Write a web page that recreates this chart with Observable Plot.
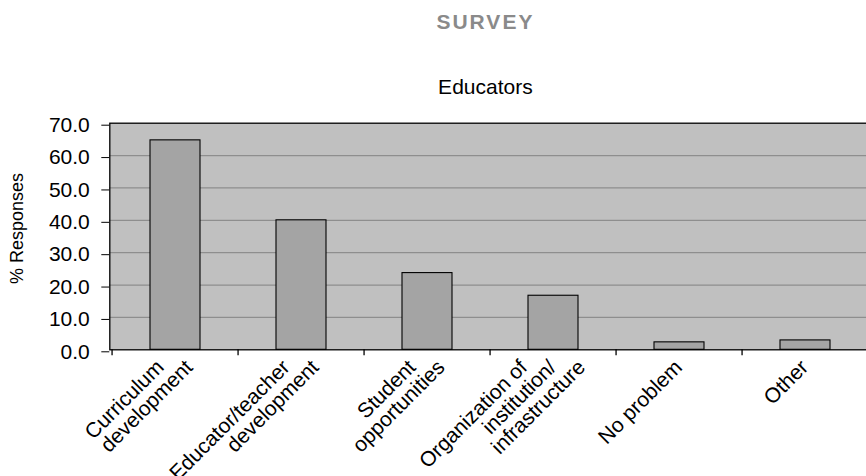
<!DOCTYPE html>
<html>
<head>
<meta charset="utf-8">
<script src="https://cdn.jsdelivr.net/npm/d3@7"></script>
<script src="https://cdn.jsdelivr.net/npm/@observablehq/plot@0.6"></script>
<style>
  html, body { margin: 0; padding: 0; background: #fff; overflow: hidden; }
  #chart svg { font-family: "Liberation Sans", Arial, Helvetica, sans-serif; }
</style>
</head>
<body>
<div id="chart"></div>
<script>
// Survey responses from educators, share of responses per problem area
const categories = [
  "Curriculum development",
  "Educator/teacher development",
  "Student opportunities",
  "Organization of institution/infrastructure",
  "No problem",
  "Other"
];
const values = [64.7, 40.0, 23.7, 16.7, 2.3, 2.9];
const labelLines = [
  ["Curriculum", "development"],
  ["Educator/teacher", "development"],
  ["Student", "opportunities"],
  ["Organization of", "institution/", "infrastructure"],
  ["No problem"],
  ["Other"]
];
const yTicks = [0, 10, 20, 30, 40, 50, 60, 70];
const title = "SURVEY";
const subtitle = "Educators";
const yLabel = "% Responses";

const rows = categories.map((category, i) => ({category, value: values[i]}));

// one row per wrapped label line; offset is the line's position relative to the block middle
const lineRows = categories.flatMap((category, i) => {
  const lines = labelLines[i];
  return lines.map((line, k) => ({category, line, offset: k - (lines.length - 1) / 2}));
});

const width = 866, height = 476;
const marginLeft = 109.3, marginRight = -4.5, marginTop = 122.7, marginBottom = 126.7;
const step = (width - marginLeft - marginRight) / categories.length;
const lineShift = 29;

const offsets = [-1, -0.5, 0, 0.5, 1];
const labelMarks = offsets.map(o =>
  Plot.text(lineRows.filter(d => d.offset === o), {
    x: "category",
    text: "line",
    frameAnchor: "bottom",
    dy: 18.7,
    dx: 4 + o * lineShift,
    rotate: -45,
    textAnchor: "end",
    lineAnchor: "bottom",
    fontSize: 21,
    fill: "#000"
  })
);

const chart = Plot.plot({
  width, height, marginLeft, marginRight, marginTop, marginBottom,
  style: {fontSize: "21px", fontFamily: "'Liberation Sans', Arial, Helvetica, sans-serif", color: "#000", background: "#fff"},
  x: {domain: categories, paddingInner: 0.6, paddingOuter: 0.3, axis: null},
  y: {domain: [0, 70], axis: null},
  marks: [
    Plot.frame({fill: "#c0c0c0", stroke: null}),
    Plot.gridY(yTicks.filter(t => t > 0 && t < 70), {stroke: "#8e8e8e", strokeOpacity: 1, strokeWidth: 1.3}),
    Plot.barY(rows, {x: "category", y: "value", fill: "#a4a4a4", stroke: "#000", strokeWidth: 1.1}),
    Plot.frame({stroke: "#000", strokeWidth: 1.3}),
    Plot.axisY({ticks: yTicks, tickSize: 8, tickPadding: 12, tickFormat: d3.format(".1f"), label: null, dy: 2, fontSize: 21}),
    Plot.axisX({tickSize: 6, tickFormat: () => "", label: null, dx: -step / 2, strokeWidth: 1.3}),
    ...labelMarks,
    Plot.text([yLabel], {frameAnchor: "left", text: d => d, rotate: -90, dx: -87, dy: -8, fontSize: 18, textAnchor: "middle", lineAnchor: "bottom", fill: "#000"}),
    Plot.text([subtitle], {frameAnchor: "top", text: d => d, dx: -5, dy: -29.4, fontSize: 21, lineAnchor: "bottom", fill: "#000"}),
    Plot.text([title], {frameAnchor: "top", text: d => d, dx: -5, dy: -94.4, fontSize: 21, fontWeight: "bold", lineAnchor: "bottom", fill: "#8a8a8a"})
  ]
});

// widen the tracking of the heading
d3.select(chart).selectAll("text").filter(function() { return this.textContent === title; })
  .style("letter-spacing", "2px");

document.getElementById("chart").append(chart);
</script>
</body>
</html>
